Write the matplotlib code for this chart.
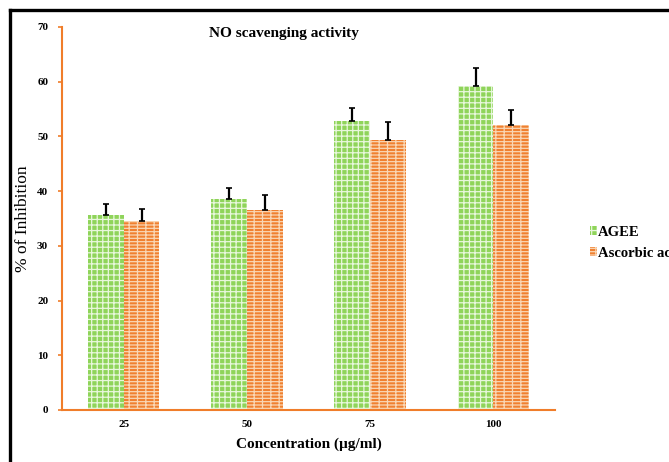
import numpy as np
import matplotlib.pyplot as plt
from matplotlib.lines import Line2D

# ===== Data =====
konsentrasi = ["25", "50", "75", "100"]
agee = [35.6, 38.6, 52.8, 59.2]
agee_err = [2.1, 2.0, 2.4, 3.3]
askorbat = [34.5, 36.6, 49.4, 52.1]
askorbat_err = [2.2, 2.7, 3.2, 2.7]
y_ticks = [0, 10, 20, 30, 40, 50, 60, 70]

plt.rcParams["font.family"] = ["Liberation Serif", "DejaVu Serif"]
plt.rcParams["hatch.linewidth"] = 0.9

fig = plt.figure(figsize=(6.69, 4.62), dpi=100)
ax = fig.add_axes([0.0927, 0.1126, 0.737, 0.829])

x = np.arange(len(konsentrasi))
lebar = 0.29
oranye = "#f07d2a"

ax.bar(x - lebar / 2, agee, lebar, color="#8fd45a", edgecolor="#e8f7dc",
       linewidth=0, hatch="+++", label="AGEE", zorder=2)
ax.bar(x + lebar / 2, askorbat, lebar, color="#f08030", edgecolor="#f9d6b4",
       linewidth=0, hatch="-----||", label="Ascorbic acid", zorder=2)

# error bar hanya ke atas
ax.errorbar(x - lebar / 2, agee, yerr=[np.zeros(4), agee_err], fmt="none",
            ecolor="black", elinewidth=1.6, capsize=2.5, capthick=1.2, zorder=3)
ax.errorbar(x + lebar / 2, askorbat, yerr=[np.zeros(4), askorbat_err], fmt="none",
            ecolor="black", elinewidth=1.6, capsize=2.5, capthick=1.2, zorder=3)

ax.set_xlim(-0.5, 3.5)
ax.set_ylim(0, 70)
ax.set_yticks(y_ticks)
ax.set_xticks(x)
ax.set_xticklabels(konsentrasi)
for lbl in ax.get_xticklabels() + ax.get_yticklabels():
    lbl.set_fontweight("bold")
    lbl.set_fontsize(8)

ax.spines["top"].set_visible(False)
ax.spines["right"].set_visible(False)
for s in ["left", "bottom"]:
    ax.spines[s].set_color(oranye)
    ax.spines[s].set_linewidth(1.5)
ax.tick_params(axis="y", colors=oranye, length=3, width=1.2, labelcolor="black", pad=7)
ax.tick_params(axis="x", length=0, pad=7, labelcolor="black")

ax.set_xlabel("Concentration (µg/ml)", fontsize=11, fontweight="bold", labelpad=6)
ax.set_ylabel("% of Inhibition", fontsize=12.5)
ax.yaxis.set_label_coords(-0.062, 0.5)
ax.text(0.45, 1.0, "NO scavenging activity", transform=ax.transAxes,
        ha="center", va="top", fontsize=11, fontweight="bold")

fig.legend(loc="center left", bbox_to_anchor=(0.873, 0.475), frameon=False,
           prop={"weight": "bold", "size": 10.5}, handlelength=0.5, handleheight=0.55,
           handletextpad=0.05, labelspacing=0.55, borderaxespad=0)

# bingkai hitam di kiri dan atas
fig.add_artist(Line2D([0.015, 0.015], [0, 0.978], transform=fig.transFigure,
                      color="black", linewidth=2.4))
fig.add_artist(Line2D([0.015, 1.0], [0.978, 0.978], transform=fig.transFigure,
                      color="black", linewidth=2.4))

fig.savefig("out.png", dpi=100)
